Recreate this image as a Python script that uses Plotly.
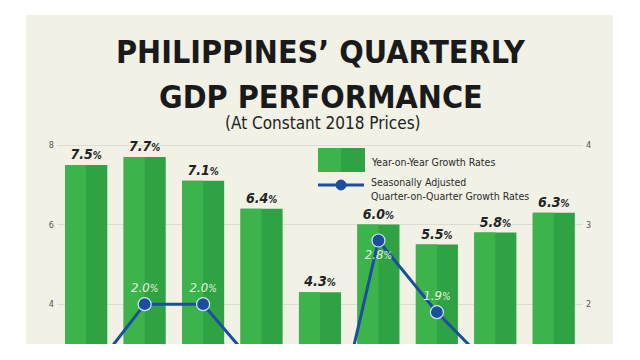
import plotly.graph_objects as go

# ---------------- data ----------------
quarters = ["Q2 2022", "Q3 2022", "Q4 2022", "Q1 2023", "Q2 2023",
            "Q3 2023", "Q4 2023", "Q1 2024", "Q2 2024"]
yoy_growth = [7.5, 7.7, 7.1, 6.4, 4.3, 6.0, 5.5, 5.8, 6.3]
qoq_growth = [1.05, 2.0, 2.0, 1.14, -0.35, 2.8, 1.9, 1.15, 1.2]
left_ticks = [4, 6, 8]
right_ticks = [2, 3, 4]

title_line1 = "PHILIPPINES’ QUARTERLY"
title_line2 = "GDP PERFORMANCE"
subtitle = "(At Constant 2018 Prices)"
legend_bar = "Year-on-Year Growth Rates"
legend_line = "Seasonally Adjusted<br>Quarter-on-Quarter Growth Rates"

# ---------------- layout helpers (screen pixel -> paper) ----------------
OFF = 8                       # page body margin offset
W, H = 640 - OFF, 360 - OFF
SL, SR, ST, SB = 57, 583, 138, 344   # plot area in screen pixels
PL, PR, PT, PB = SL - OFF, SR - OFF, ST - OFF, SB - OFF
def px(x):
    return (x - SL) / (SR - SL)
def py(y):
    return (SB - y) / (SB - ST)

FONT = "DejaVu Sans Condensed, sans-serif"
GREEN_L = "#3cb44b"
GREEN_D = "#2fa343"
BLUE = "#1b4e9e"
PANEL = "#f1f1e6"

PX_PER_UNIT = 39.75
y_lo = 3.0
y_hi = 8 + (145 - ST) / PX_PER_UNIT

bar_text = [f"<b><i>{v:.1f}</i></b><span style='font-size:10px'><b><i>%</i></b></span>" for v in yoy_growth]
line_text = [f"<i>{v:.1f}</i><span style='font-size:10px'><i>%</i></span>" if v >= y_lo / 2 else ""
             for v in qoq_growth]
line_pos = ["bottom center" if v >= 2.5 else "top center" for v in qoq_growth]

fig = go.Figure()
fig.add_trace(go.Bar(
    x=quarters, y=yoy_growth, width=0.72, offset=-0.36,
    marker=dict(color=GREEN_D, line=dict(width=0)),
    text=bar_text, textposition="outside", texttemplate="%{text}",
    textfont=dict(family=FONT, size=14, color="#222222"),
    cliponaxis=True, showlegend=False, name=legend_bar,
))
fig.add_trace(go.Bar(
    x=quarters, y=yoy_growth, width=0.36, offset=-0.36,
    marker=dict(color=GREEN_L, line=dict(width=0)),
    cliponaxis=True, showlegend=False, hoverinfo="skip",
))
fig.add_trace(go.Scatter(
    x=quarters, y=qoq_growth, yaxis="y2", mode="lines+markers+text",
    line=dict(color=BLUE, width=3),
    marker=dict(size=13, color=BLUE, line=dict(color="#d8e6f2", width=1.2)),
    text=line_text, textposition=line_pos,
    textfont=dict(family=FONT, size=13, color="#e6f3dc"),
    cliponaxis=True, showlegend=False, name="Seasonally Adjusted Quarter-on-Quarter Growth Rates",
))

shapes = [
    dict(type="rect", xref="paper", yref="paper", x0=px(26), x1=px(613), y0=py(344), y1=py(15),
         fillcolor=PANEL, line=dict(width=0), layer="below"),
    dict(type="rect", xref="paper", yref="paper", x0=px(318), x1=px(341), y0=py(172), y1=py(148),
         fillcolor=GREEN_L, line=dict(width=0)),
    dict(type="rect", xref="paper", yref="paper", x0=px(341), x1=px(365), y0=py(172), y1=py(148),
         fillcolor=GREEN_D, line=dict(width=0)),
    dict(type="line", xref="paper", yref="paper", x0=px(318), x1=px(364), y0=py(185), y1=py(185),
         line=dict(color=BLUE, width=3)),
    dict(type="circle", xref="paper", yref="paper", x0=px(336), x1=px(346), y0=py(190), y1=py(180),
         fillcolor=BLUE, line=dict(color=BLUE, width=1)),
]

annotations = [
    dict(text=f"<b>{title_line1}</b>", x=px(321), y=py(52), xref="paper", yref="paper",
         xanchor="center", yanchor="middle", showarrow=False,
         font=dict(family=FONT, size=32, color="#1a1a1a")),
    dict(text=f"<b>{title_line2}</b>", x=px(321), y=py(96.5), xref="paper", yref="paper",
         xanchor="center", yanchor="middle", showarrow=False,
         font=dict(family=FONT, size=32, color="#1a1a1a")),
    dict(text=subtitle, x=px(323), y=py(123), xref="paper", yref="paper",
         xanchor="center", yanchor="middle", showarrow=False,
         font=dict(family=FONT, size=17, color="#222222")),
    dict(text=legend_bar, x=px(369), y=py(162), xref="paper", yref="paper",
         xanchor="left", yanchor="middle", showarrow=False,
         font=dict(family=FONT, size=10.5, color="#2a2a2a")),
    dict(text=legend_line, x=px(369), y=py(189), xref="paper", yref="paper",
         xanchor="left", yanchor="middle", showarrow=False, align="left",
         font=dict(family=FONT, size=10.5, color="#2a2a2a")),
]

fig.update_layout(
    width=W, height=H,
    margin=dict(l=PL, r=W - PR, t=PT, b=H - PB, autoexpand=False),
    paper_bgcolor="white", plot_bgcolor="rgba(0,0,0,0)",
    barmode="overlay", bargap=0.28,
    xaxis=dict(showticklabels=False, showgrid=False, zeroline=False, showline=False,
               range=[-0.5, 8.5]),
    yaxis=dict(range=[y_lo, y_hi], tickvals=left_ticks,
               showgrid=True, gridcolor="#dcdcd0", gridwidth=1, zeroline=False, showline=False,
               tickfont=dict(family=FONT, size=9, color="#555555"), ticklabelstandoff=2),
    yaxis2=dict(overlaying="y", side="right", tickvals=right_ticks, showgrid=False,
                range=[y_lo / 2, y_hi / 2],
                zeroline=False, showline=False,
                tickfont=dict(family=FONT, size=9, color="#555555"), ticklabelstandoff=2),
    shapes=shapes, annotations=annotations, hovermode=False,
)

fig.write_html("out.html")
